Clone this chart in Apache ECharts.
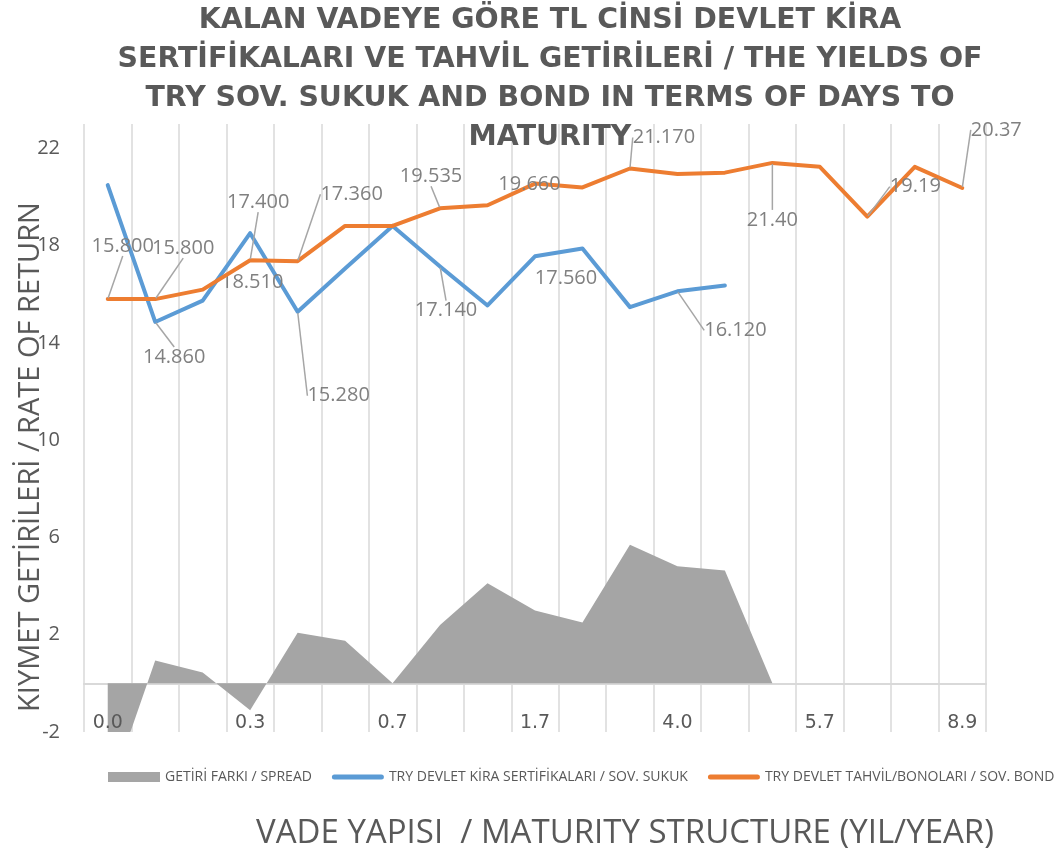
<!DOCTYPE html>
<html>
<head>
<meta charset="utf-8">
<script src="https://cdn.jsdelivr.net/npm/echarts@6/dist/echarts.min.js"></script>
<style>
  html, body { margin: 0; padding: 0; background: #fff; }
  #chart { width: 1063px; height: 857px; }
</style>
</head>
<body>
<div id="chart"></div>
<script>
// Maturity (years) per category, only every third one is labelled on the axis
var maturities = ['0.0', '0.1', '0.2', '0.3', '0.4', '0.5', '0.7', '1.0', '1.3', '1.7',
    '2.2', '3.0', '4.0', '4.5', '5.0', '5.7', '6.5', '7.5', '8.9'];

// TRY devlet kira sertifikalari / sov. sukuk
var sukukYields = [20.49, 14.86, 15.74, 18.51, 15.28, 17.06, 18.81, 17.14, 15.54, 17.56,
    17.88, 15.47, 16.12, 16.36, null, null, null, null, null];

// TRY devlet tahvil/bonolari / sov. bond
var bondYields = [15.80, 15.80, 16.19, 17.40, 17.36, 18.81, 18.81, 19.535, 19.66, 20.55,
    20.39, 21.17, 20.94, 21.00, 21.40, 21.24, 19.19, 21.24, 20.37];

// Getiri farki / spread
var spreadValues = [-4.69, 0.94, 0.45, -1.11, 2.08, 1.75, 0.00, 2.40, 4.12, 3.00,
    2.50, 5.70, 4.82, 4.64, 0.00, null, null, null, null];

var legendNames = ['GETİRİ FARKI / SPREAD',
    'TRY DEVLET KİRA SERTİFİKALARI / SOV. SUKUK',
    'TRY DEVLET TAHVİL/BONOLARI / SOV. BOND'];

// Data label placement: index -> [dx, dy, decimals, leader line]
var sukukLabelLayout = {
    1: [19, 35, 3, true], 3: [2, 49, 3, false], 4: [41, 84, 3, true],
    7: [6, 44, 3, true], 9: [31, 22, 3, false], 12: [58, 39, 3, true]
};
var bondLabelLayout = {
    0: [15, -53, 3, true], 1: [28, -51, 3, true], 3: [8, -58, 3, true],
    4: [54, -67, 3, true], 7: [-9, -32, 3, true], 8: [42, -21, 3, false],
    11: [34, -31, 3, true], 14: [0, 57, 2, true], 16: [48, -30, 2, true],
    18: [34, -58, 2, true]
};

var textGray = '#595959';
var labelGray = '#808080';
var leaderGray = '#a6a6a6';
var gridGray = '#d9d9d9';

// thick rounded bar used as legend icon for the two lines
var lineIcon = 'path://M2.5,0 L49.5,0 A2.5,2.5 0 0 1 49.5,5 L2.5,5 A2.5,2.5 0 0 1 2.5,0 Z';

function buildData(values, layout) {
    return values.map(function (v, i) {
        var cfg = layout[i];
        if (!cfg || v == null) {
            return { value: v, label: { show: false } };
        }
        return {
            value: v,
            label: {
                show: true,
                formatter: function (p) { return p.value.toFixed(cfg[2]); }
            },
            labelLine: { show: cfg[3] }
        };
    });
}

function layoutFor(layout) {
    return function (params) {
        var cfg = layout[params.dataIndex];
        if (!cfg) return {};
        return { dx: cfg[0], dy: cfg[1] };
    };
}

var dataLabel = {
    position: 'inside',
    color: labelGray,
    fontFamily: 'Open Sans',
    fontSize: 20
};
var dataLabelLine = {
    lineStyle: { color: leaderGray, width: 1.5 }
};

var chart = echarts.init(document.getElementById('chart'));

chart.setOption({
    animation: false,
    backgroundColor: '#fff',
    textStyle: { fontFamily: 'Open Sans' },

    title: {
        text: 'KALAN VADEYE GÖRE TL CİNSİ DEVLET KİRA\nSERTİFİKALARI VE TAHVİL GETİRİLERİ / THE YIELDS OF\nTRY SOV. SUKUK AND BOND IN TERMS OF DAYS TO\nMATURITY',
        left: 550,
        top: 1,
        padding: 0,
        textAlign: 'center',
        textStyle: {
            fontFamily: 'DejaVu Sans',
            fontWeight: 'bold',
            fontSize: 28.4,
            lineHeight: 39,
            color: textGray
        }
    },

    grid: { left: 84, right: 77, top: 124, bottom: 125 },

    legend: {
        data: [
            { name: legendNames[0], icon: 'rect' },
            { name: legendNames[1], icon: lineIcon },
            { name: legendNames[2], icon: lineIcon }
        ],
        left: 108,
        top: 770,
        width: 1000,
        padding: 0,
        itemWidth: 52,
        itemHeight: 10,
        itemGap: 20,
        textStyle: { fontFamily: 'Open Sans', fontSize: 14, color: textGray }
    },

    xAxis: [
        {
            // zero line and vertical grid lines, drawn under the area
            type: 'category',
            data: maturities,
            boundaryGap: true,
            axisLine: { onZero: true, lineStyle: { color: gridGray, width: 2 } },
            axisTick: { show: false, interval: 0 },
            axisLabel: { show: false },
            splitLine: { show: true, interval: 0, lineStyle: { color: gridGray, width: 1.5 } }
        },
        {
            // tick labels, drawn above the area
            type: 'category',
            data: maturities,
            position: 'bottom',
            boundaryGap: true,
            z: 10,
            axisLine: { show: false, onZero: false },
            axisTick: { show: false },
            splitLine: { show: false },
            axisLabel: {
                interval: 2,
                margin: -18,
                color: textGray,
                fontFamily: 'DejaVu Sans',
                fontSize: 19
            }
        }
    ],

    yAxis: {
        type: 'value',
        min: -2,
        max: 23,
        interval: 4,
        axisLine: { show: false },
        axisTick: { show: false },
        splitLine: { show: false },
        axisLabel: {
            margin: 24,
            showMaxLabel: false,
            color: textGray,
            fontFamily: 'Open Sans',
            fontSize: 20
        }
    },

    graphic: [
        {
            type: 'text',
            x: 31,
            y: 457,
            rotation: Math.PI / 2,
            style: {
                text: 'KIYMET GETİRİLERİ / RATE OF RETURN',
                fontFamily: 'Open Sans',
                fontSize: 29,
                fill: textGray,
                align: 'center',
                verticalAlign: 'middle'
            }
        },
        {
            type: 'text',
            x: 625,
            y: 834,
            style: {
                text: 'VADE YAPISI  / MATURITY STRUCTURE (YIL/YEAR)',
                fontFamily: 'Open Sans',
                fontSize: 33,
                fill: textGray,
                align: 'center',
                verticalAlign: 'middle'
            }
        }
    ],

    series: [
        {
            name: legendNames[0],
            type: 'line',
            data: spreadValues,
            symbol: 'none',
            lineStyle: { width: 0, color: '#a5a5a5' },
            itemStyle: { color: '#a5a5a5' },
            areaStyle: { color: '#a5a5a5', opacity: 1 },
            z: 1
        },
        {
            name: legendNames[1],
            type: 'line',
            data: buildData(sukukYields, sukukLabelLayout),
            symbol: 'circle',
            symbolSize: 2,
            showAllSymbol: true,
            itemStyle: { color: '#5b9bd5' },
            lineStyle: { width: 4, color: '#5b9bd5', join: 'round', cap: 'round' },
            label: dataLabel,
            labelLine: dataLabelLine,
            labelLayout: layoutFor(sukukLabelLayout),
            z: 2
        },
        {
            name: legendNames[2],
            type: 'line',
            data: buildData(bondYields, bondLabelLayout),
            symbol: 'circle',
            symbolSize: 2,
            showAllSymbol: true,
            itemStyle: { color: '#ed7d31' },
            lineStyle: { width: 4, color: '#ed7d31', join: 'round', cap: 'round' },
            label: dataLabel,
            labelLine: dataLabelLine,
            labelLayout: layoutFor(bondLabelLayout),
            z: 3
        }
    ]
});
</script>
</body>
</html>
